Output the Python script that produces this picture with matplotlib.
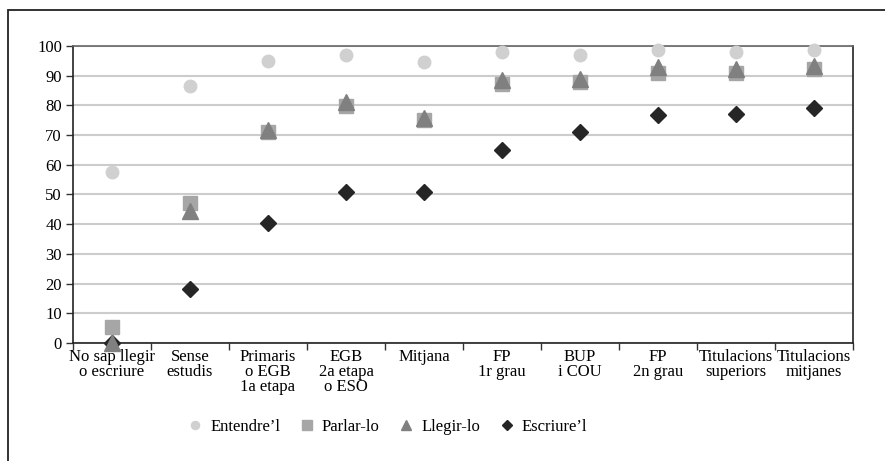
import matplotlib
matplotlib.use('Agg')
import matplotlib.pyplot as plt
from matplotlib.patches import Rectangle

# Categories (nivell d'estudis)
categories = [
    'No sap llegir\no escriure', 'Sense\nestudis', 'Primaris\no EGB\n1a etapa',
    'EGB\n2a etapa\no ESO', 'Mitjana', 'FP\n1r grau', 'BUP\ni COU',
    'FP\n2n grau', 'Titulacions\nsuperiors', 'Titulacions\nmitjanes',
]

entendre = [57.7, 86.4, 95.1, 97.0, 94.6, 98.1, 97.0, 98.5, 98.0, 98.5]
parlar = [5.3, 47.3, 71.1, 79.9, 75.1, 87.1, 88.0, 91.0, 90.9, 92.1]
llegir = [0.0, 44.4, 71.6, 81.3, 75.8, 88.7, 88.8, 92.8, 92.4, 93.2]
escriure = [0.0, 18.2, 40.3, 50.8, 50.8, 65.0, 70.9, 76.6, 77.0, 79.2]

plt.rcParams['font.family'] = ['Liberation Serif', 'DejaVu Serif']
plt.rcParams['font.size'] = 12

fig = plt.figure(figsize=(8.85, 4.61), dpi=100)
W, H = 885, 461
ax = fig.add_axes([73 / W, 1 - 343 / H, (853 - 73) / W, (343 - 46) / H])

# marc exterior
fig.patches.append(Rectangle((8 / W, -0.1), 1.2, 1 - 10 / H + 0.1, transform=fig.transFigure,
                             fill=False, edgecolor='#222222', linewidth=1.3))

x = list(range(len(categories)))
ax.plot(x, entendre, 'o', color='#d0d0d0', markersize=9, label='Entendre’l', clip_on=False, zorder=3)
ax.plot(x, parlar, 's', color='#a6a6a6', markersize=10.5, label='Parlar-lo', clip_on=False, zorder=4)
ax.plot(x, llegir, '^', color='#808080', markersize=11.5, label='Llegir-lo', clip_on=False, zorder=6)
ax.plot(x, escriure, 'D', color='#262626', markersize=8, label='Escriure’l', clip_on=False, zorder=5)

ax.set_xlim(-0.5, len(categories) - 0.5)
ax.set_ylim(0, 100)
ax.set_yticks(range(0, 101, 10))
ax.yaxis.grid(True, color='#cccccc', linewidth=1.5)
ax.set_axisbelow(True)

ax.set_xticks(x)
ax.set_xticklabels(categories, linespacing=0.95)
ax.set_xticks([i + 0.5 for i in range(-1, len(categories))], minor=True)
ax.tick_params(axis='x', which='major', length=0, pad=4)
ax.tick_params(axis='x', which='minor', length=5, width=1, color='#333333')
ax.tick_params(axis='y', length=5, width=1, color='#333333', pad=3)

for side in ['left', 'right', 'bottom']:
    ax.spines[side].set_color('#222222')
    ax.spines[side].set_linewidth(1.2)
ax.spines['top'].set_color('#666666')
ax.spines['top'].set_linewidth(1.2)

fig.legend(loc='center', bbox_to_anchor=(387 / W, 1 - 427 / H), ncol=4, frameon=False,
           handletextpad=0.4, columnspacing=1.1, handlelength=1.0, markerscale=0.65)

fig.savefig('out.png', dpi=100)
